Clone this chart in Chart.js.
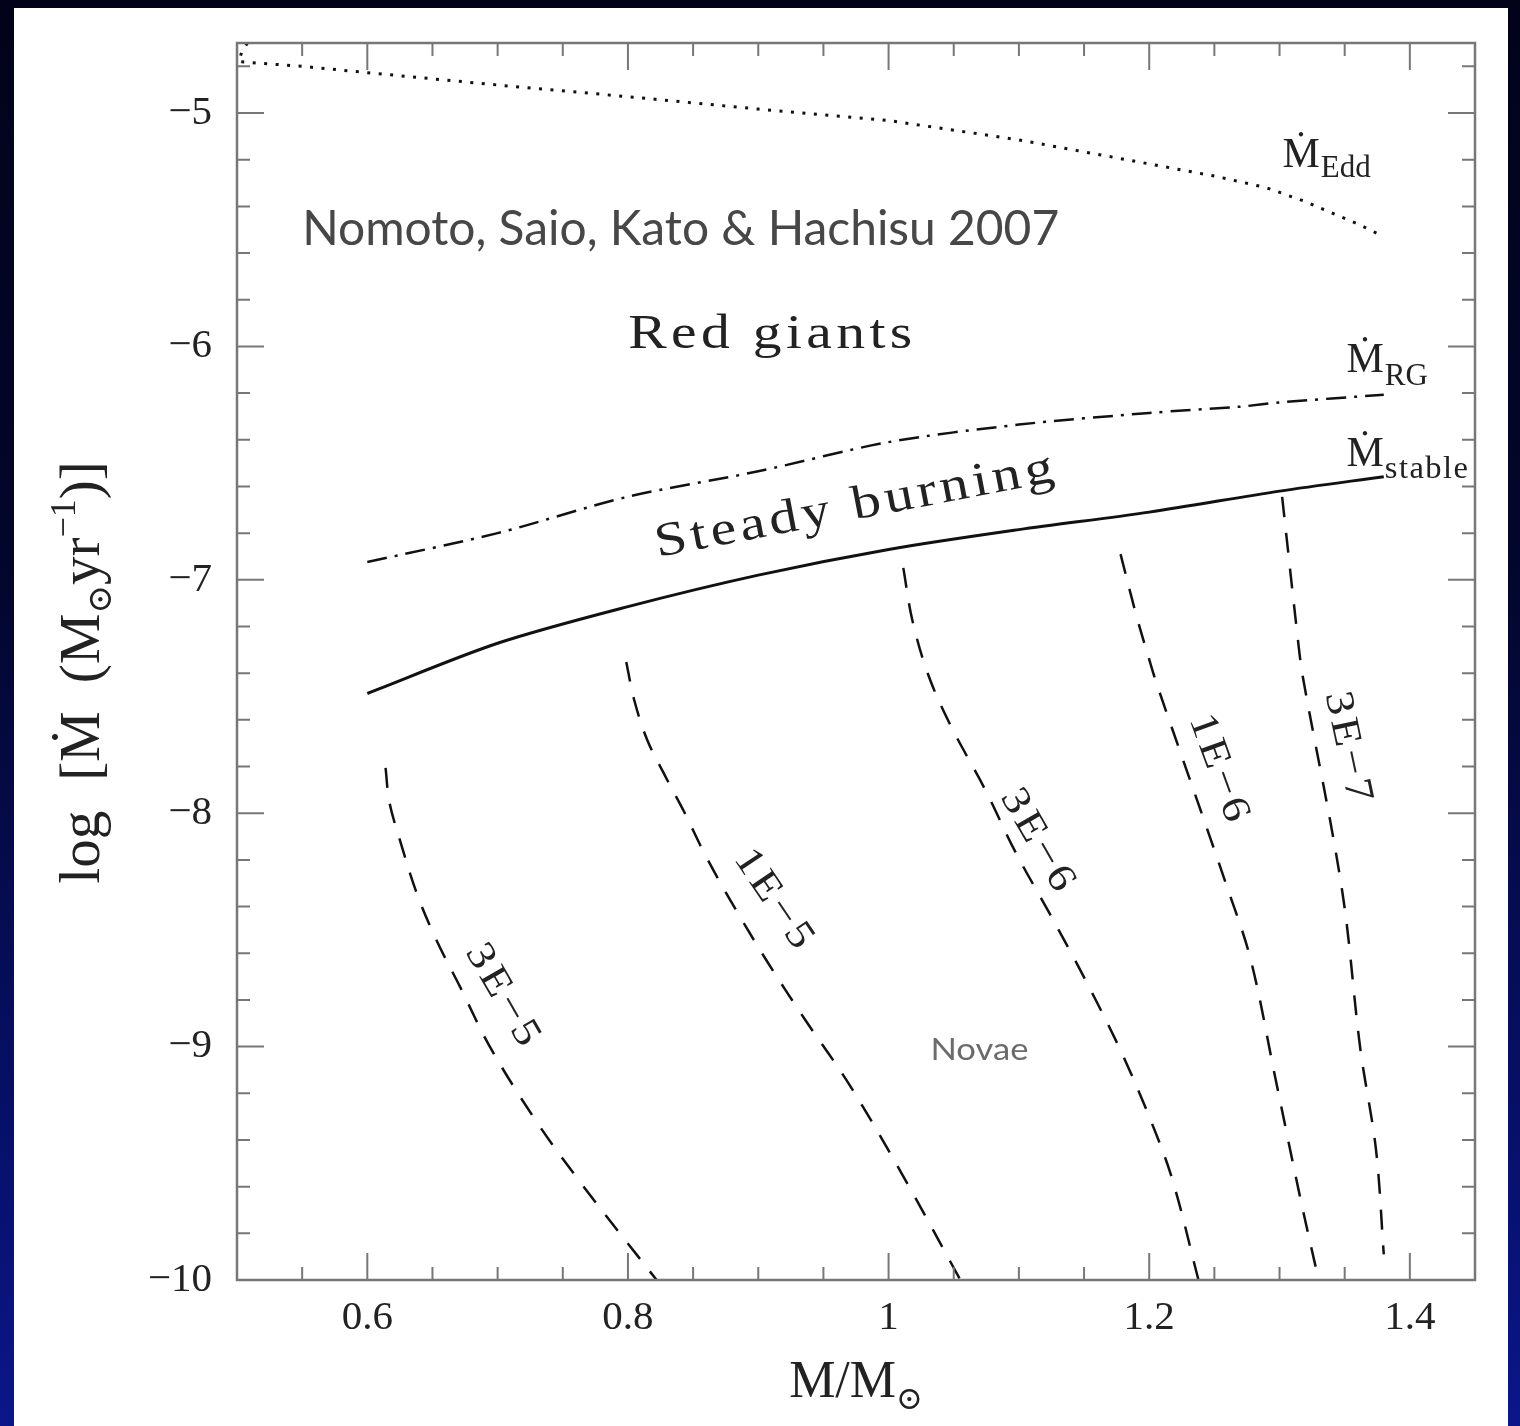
<!DOCTYPE html>
<html>
<head>
<meta charset="utf-8">
<script src="https://cdn.jsdelivr.net/npm/chart.js@4.4.1/dist/chart.umd.min.js"></script>
<style>
  html, body { margin: 0; padding: 0; }
  body {
    width: 1520px; height: 1426px; overflow: hidden; position: relative;
    background: linear-gradient(180deg, #02031a 0%, #03062c 40%, #07106a 80%, #0b1689 100%);
  }
  #painel { position: absolute; left: 14px; top: 8px; width: 1494px; height: 1418px; background: #fff; }
</style>
</head>
<body>
<div id="painel"><canvas id="graficoTaxas" width="1494" height="1418"></canvas></div>
<script>
// curvas (massa da anã branca em M/Msol, log da taxa de acreção)
const massaEdd = [0.508, 0.5035, 0.5015, 0.55, 0.6, 0.7, 0.8, 0.9, 1.0, 1.1, 1.2, 1.25, 1.29, 1.32, 1.341, 1.36, 1.38];
const logEdd   = [-4.70, -4.74, -4.78, -4.80, -4.827, -4.88, -4.93, -4.983, -5.032, -5.115, -5.218, -5.27, -5.32, -5.38, -5.43, -5.475, -5.53];

const massaRG = [0.6, 0.7, 0.8, 0.9, 1.0, 1.1, 1.2, 1.27, 1.3, 1.38];
const logRG   = [-6.924, -6.80, -6.644, -6.535, -6.41, -6.335, -6.285, -6.258, -6.24, -6.207];

const massaEstavel = [0.6, 0.7, 0.8, 0.9, 1.0, 1.1, 1.2, 1.3, 1.38];
const logEstavel   = [-7.487, -7.272, -7.115, -6.98, -6.87, -6.785, -6.71, -6.62, -6.558];

// contornos de massa acumulada (tracejados)
const massa3e5 = [0.614, 0.617, 0.625, 0.638, 0.653, 0.671, 0.694, 0.730, 0.766, 0.822];
const log3e5   = [-7.806, -7.954, -8.115, -8.344, -8.543, -8.742, -9.0, -9.323, -9.6, -10.0];
const massa1e5 = [0.7987, 0.8048, 0.8148, 0.8286, 0.8432, 0.8593, 0.8785, 0.9061, 0.9361, 0.9706, 1.0129, 1.0551];
const log1e5   = [-7.352, -7.515, -7.686, -7.841, -7.995, -8.179, -8.372, -8.629, -8.886, -9.169, -9.572, -10.0];
const massa3e6 = [1.0113, 1.0182, 1.0305, 1.0474, 1.0743, 1.0973, 1.1242, 1.1511, 1.1779, 1.2010, 1.2179, 1.2378];
const log3e6   = [-6.949, -7.172, -7.408, -7.622, -7.901, -8.166, -8.436, -8.715, -9.015, -9.314, -9.572, -10.0];
const massa1e6 = [1.178, 1.19, 1.201, 1.206, 1.26, 1.278, 1.297, 1.316, 1.33];
const log1e6   = [-6.89, -7.15, -7.36, -7.45, -8.32, -8.63, -9.14, -9.65, -10.0];
const massa3e7 = [1.302, 1.315, 1.318, 1.348, 1.362, 1.374, 1.38];
const log3e7   = [-6.645, -7.30, -7.42, -8.33, -9.01, -9.44, -9.89];

const nomesContorno = ['3E\u22125', '1E\u22125', '3E\u22126', '1E\u22126', '3E\u22127'];
const rotulosX = [0.6, 0.8, 1, 1.2, 1.4];
const rotulosY = [-10, -9, -8, -7, -6, -5];

const SERIF = '"Liberation Serif", "DejaVu Serif", serif';
const SANS = 'Lato, "Open Sans", sans-serif';

function pontos(xs, ys) { return xs.map((v, i) => ({ x: v, y: ys[i] })); }
function formata(v) { return v < 0 ? '\u2212' + Math.abs(v) : String(v); }

// texto alargado (escala horizontal) e com espaçamento para ocupar a largura dada
function textoLargura(ctx, str, x, y, largura, alinhamento, esticar) {
  const s = esticar || 1;
  const n = [...str].length;
  ctx.letterSpacing = '0px';
  const w = ctx.measureText(str).width * s;
  const sp = n > 1 ? (largura - w) / (n - 1) / s : 0;
  ctx.save();
  ctx.letterSpacing = sp + 'px';
  ctx.textAlign = 'left';
  const x0 = alinhamento === 'center' ? x - largura / 2 : x;
  ctx.translate(x0, y);
  ctx.scale(s, 1);
  ctx.fillText(str, 0, 0);
  ctx.restore();
  ctx.letterSpacing = '0px';
}

// texto esticado na horizontal
function textoEscala(ctx, str, x, y, largura) {
  const w = ctx.measureText(str).width;
  ctx.save();
  ctx.translate(x, y);
  ctx.scale(largura / w, 1);
  ctx.textAlign = 'left';
  ctx.fillText(str, 0, 0);
  ctx.restore();
}

// pedaços com tamanhos e deslocamentos (sub/sobrescritos)
function textoComposto(ctx, partes, x, y, centrar) {
  let total = 0;
  partes.forEach(p => { ctx.font = p.size + 'px ' + SERIF; p.w = ctx.measureText(p.t).width + (p.gap || 0); total += p.w; });
  let cx = centrar ? x - total / 2 : x;
  ctx.textAlign = 'left';
  partes.forEach(p => { ctx.font = p.size + 'px ' + SERIF; ctx.fillText(p.t, cx, y + (p.dy || 0)); cx += p.w; });
}

const moldura = {
  id: 'moldura',
  afterDraw(chart) {
    const { ctx, chartArea: a, scales: { x, y } } = chart;
    ctx.save();
    ctx.strokeStyle = '#777';
    ctx.lineWidth = 2.5;
    ctx.strokeRect(a.left, a.top, a.right - a.left, a.bottom - a.top);
    ctx.lineWidth = 2;
    ctx.beginPath();
    for (let i = 0; i <= 19; i++) {
      const v = 0.5 + i * 0.05;
      const major = rotulosX.some(r => Math.abs(r - v) < 1e-6);
      const len = major ? 27 : 13;
      const p = x.getPixelForValue(v);
      ctx.moveTo(p, a.bottom); ctx.lineTo(p, a.bottom - len);
      ctx.moveTo(p, a.top); ctx.lineTo(p, a.top + len);
    }
    for (let i = 0; i <= 26; i++) {
      const v = -10 + i * 0.2;
      const major = Math.abs(v - Math.round(v)) < 1e-6;
      const len = major ? 27 : 13;
      const p = y.getPixelForValue(v);
      ctx.moveTo(a.left, p); ctx.lineTo(a.left + len, p);
      ctx.moveTo(a.right, p); ctx.lineTo(a.right - len, p);
    }
    ctx.stroke();

    // títulos dos eixos
    ctx.fillStyle = '#222';
    ctx.textBaseline = 'alphabetic';
    textoComposto(ctx, [
      { t: 'M/M', size: 52 },
      { t: '\u2299', size: 32, dy: 12 }
    ], (a.left + a.right) / 2, a.bottom + 117, true);

    ctx.save();
    ctx.translate(85, (a.top + a.bottom) / 2 + 11);
    ctx.rotate(-Math.PI / 2);
    textoComposto(ctx, [
      { t: 'log', size: 57, gap: 30 },
      { t: '[\u1E40', size: 57, gap: 28 },
      { t: '(M', size: 57 },
      { t: '\u2299', size: 34, dy: 12 },
      { t: 'yr', size: 57 },
      { t: '\u22121', size: 36, dy: -24 },
      { t: ')]', size: 57 }
    ], 0, 0, true);
    ctx.restore();
    ctx.restore();
  }
};

const anotacoes = {
  id: 'anotacoes',
  afterDatasetsDraw(chart) {
    const { ctx, scales: { x, y } } = chart;
    const px = v => x.getPixelForValue(v), py = v => y.getPixelForValue(v);
    ctx.save();
    ctx.textBaseline = 'alphabetic';

    ctx.fillStyle = '#474747';
    ctx.font = '48px ' + SANS;
    textoEscala(ctx, 'Nomoto, Saio, Kato & Hachisu 2007', px(0.55), py(-5.566), 757);

    ctx.fillStyle = '#6b6b6b';
    ctx.font = '31px ' + SANS;
    ctx.textBaseline = 'middle';
    textoEscala(ctx, 'Novae', px(1.0697) - 49, py(-9.015), 98);

    ctx.fillStyle = '#222';
    ctx.textBaseline = 'alphabetic';
    ctx.font = '48px ' + SERIF;
    textoLargura(ctx, 'Red giants', px(0.8002), py(-6.007), 284, 'left', 1.2);

    ctx.save();
    ctx.translate(px(0.9737), py(-6.687));
    ctx.rotate(-10.8 * Math.PI / 180);
    ctx.textBaseline = 'middle';
    ctx.font = '48px ' + SERIF;
    textoLargura(ctx, 'Steady burning', 0, 0, 405, 'center', 1.2);
    ctx.restore();

    // rótulos das curvas
    const rotuloM = (sub, xm, ym, dySub, largSub) => {
      ctx.font = '42px ' + SERIF;
      ctx.textAlign = 'left';
      const x0 = px(xm), y0 = py(ym);
      ctx.fillText('\u1E40', x0, y0);
      const w = ctx.measureText('\u1E40').width;
      ctx.font = '31px ' + SERIF;
      if (largSub) textoLargura(ctx, sub, x0 + w + 1, y0 + dySub, largSub, 'left', 1.05);
      else ctx.fillText(sub, x0 + w + 1, y0 + dySub);
    };
    rotuloM('Edd', 1.3023, -5.231, 10, 0);
    rotuloM('RG', 1.3514, -6.11, 13, 0);
    rotuloM('stable', 1.3514, -6.512, 12, 83);

    // nomes dos contornos, ao longo das linhas
    const posContorno = [
      { x: 0.7035, y: -8.779, ang: 60 },
      { x: 0.9115, y: -8.368, ang: 56 },
      { x: 1.114, y: -8.115, ang: 60 },
      { x: 1.253, y: -7.806, ang: 70 },
      { x: 1.352, y: -7.716, ang: 78 }
    ];
    ctx.font = '40px ' + SERIF;
    ctx.textBaseline = 'middle';
    posContorno.forEach((p, i) => {
      ctx.save();
      ctx.translate(px(p.x), py(p.y));
      ctx.rotate(p.ang * Math.PI / 180);
      textoLargura(ctx, nomesContorno[i], 0, 0, 112, 'center', 1.15);
      ctx.restore();
    });
    ctx.restore();
  }
};

const tracejado = { borderColor: '#111', borderWidth: 2.5, borderDash: [20, 16], pointRadius: 0, tension: 0.35, fill: false };

const ctx = document.getElementById('graficoTaxas');
new Chart(ctx, {
  type: 'line',
  data: {
    datasets: [
      { data: pontos(massaEdd, logEdd), borderColor: '#111', borderWidth: 3, borderDash: [3, 8.5], tension: 0, pointRadius: 0 },
      { data: pontos(massaRG, logRG), borderColor: '#111', borderWidth: 2.5, borderDash: [20, 8, 3, 8], tension: 0.3, pointRadius: 0 },
      { data: pontos(massaEstavel, logEstavel), borderColor: '#111', borderWidth: 3, tension: 0.3, pointRadius: 0 },
      { ...tracejado, data: pontos(massa3e5, log3e5) },
      { ...tracejado, data: pontos(massa1e5, log1e5) },
      { ...tracejado, data: pontos(massa3e6, log3e6) },
      { ...tracejado, data: pontos(massa1e6, log1e6) },
      { ...tracejado, data: pontos(massa3e7, log3e7) }
    ]
  },
  options: {
    responsive: false,
    animation: false,
    layout: { padding: { top: 35, right: 33, bottom: 0, left: 0 } },
    plugins: { legend: { display: false }, tooltip: { enabled: false } },
    scales: {
      x: {
        type: 'linear', min: 0.5, max: 1.45,
        grid: { display: false, drawTicks: false },
        border: { display: false },
        afterBuildTicks: s => { s.ticks = rotulosX.map(v => ({ value: v })); },
        afterFit: s => { s.height = 146; s.paddingLeft = 0; s.paddingRight = 0; },
        ticks: { font: { family: SERIF, size: 41 }, color: '#222', padding: 14, maxRotation: 0, autoSkip: false, callback: v => formata(v) }
      },
      y: {
        type: 'linear', min: -10, max: -4.7,
        grid: { display: false, drawTicks: false },
        border: { display: false },
        afterBuildTicks: s => { s.ticks = rotulosY.map(v => ({ value: v })); },
        afterFit: s => { s.width = 223; s.paddingTop = 0; s.paddingBottom = 0; },
        ticks: { font: { family: SERIF, size: 41 }, color: '#222', padding: 25, autoSkip: false, callback: v => formata(v) }
      }
    }
  },
  plugins: [moldura, anotacoes]
});
</script>
</body>
</html>
